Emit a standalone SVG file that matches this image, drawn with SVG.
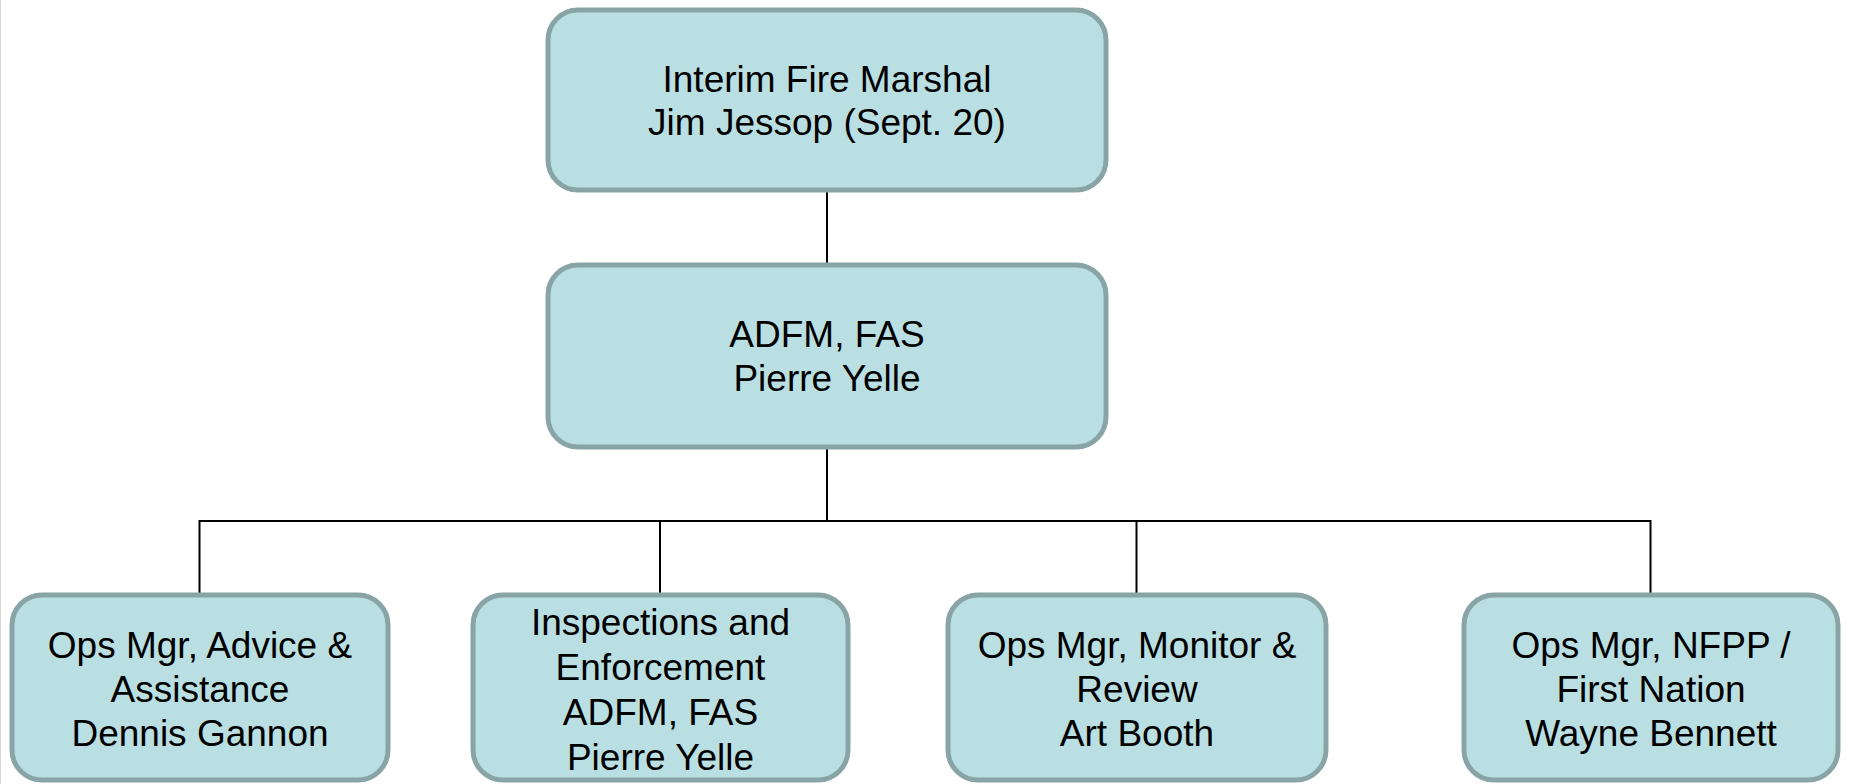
<svg xmlns="http://www.w3.org/2000/svg" width="1851" height="784" viewBox="0 0 1851 784">
<style>
.box{fill:#BADFE2;stroke:#88A4A6;stroke-width:5}
.lbl{font-family:"Liberation Sans",Arial,sans-serif;font-size:37px;fill:#000;text-anchor:middle}
.conn{stroke:#000;stroke-width:2;fill:none}
</style>
<rect x="0" y="0" width="1851" height="784" fill="#ffffff"/>
<line x1="0.5" y1="0" x2="0.5" y2="784" stroke="#d9d9d9" stroke-width="1"/>
<g id="connectors">
<line class="conn" x1="827" y1="190" x2="827" y2="265"/>
<line class="conn" x1="827" y1="447" x2="827" y2="521"/>
<line class="conn" x1="199.5" y1="521" x2="1650.5" y2="521"/>
<line class="conn" x1="199.5" y1="520" x2="199.5" y2="595"/>
<line class="conn" x1="660" y1="521" x2="660" y2="595"/>
<line class="conn" x1="1136.5" y1="521" x2="1136.5" y2="595"/>
<line class="conn" x1="1650.5" y1="520" x2="1650.5" y2="595"/>
</g>
<g id="fire-marshal">
<rect class="box" x="548" y="10" width="558" height="180" rx="30"/>
<text class="lbl" x="827" y="92">Interim Fire Marshal</text>
<text class="lbl" x="827" y="135">Jim Jessop (Sept. 20)</text>
</g>
<g id="adfm">
<rect class="box" x="548" y="265" width="558" height="182" rx="30"/>
<text class="lbl" x="827" y="347">ADFM, FAS</text>
<text class="lbl" x="827" y="391">Pierre Yelle</text>
</g>
<g id="advice">
<rect class="box" x="12" y="595" width="376" height="185" rx="30"/>
<text class="lbl" x="200" y="658">Ops Mgr, Advice &amp;</text>
<text class="lbl" x="200" y="702">Assistance</text>
<text class="lbl" x="200" y="746">Dennis Gannon</text>
</g>
<g id="inspections">
<rect class="box" x="473" y="595" width="375" height="185" rx="30"/>
<text class="lbl" x="660.5" y="635">Inspections and</text>
<text class="lbl" x="660.5" y="680">Enforcement</text>
<text class="lbl" x="660.5" y="725">ADFM, FAS</text>
<text class="lbl" x="660.5" y="770">Pierre Yelle</text>
</g>
<g id="monitor">
<rect class="box" x="948" y="595" width="378" height="185" rx="30"/>
<text class="lbl" x="1137" y="658">Ops Mgr, Monitor &amp;</text>
<text class="lbl" x="1137" y="702">Review</text>
<text class="lbl" x="1137" y="746">Art Booth</text>
</g>
<g id="nfpp">
<rect class="box" x="1464" y="595" width="374" height="185" rx="30"/>
<text class="lbl" x="1651" y="658">Ops Mgr, NFPP /</text>
<text class="lbl" x="1651" y="702">First Nation</text>
<text class="lbl" x="1651" y="746">Wayne Bennett</text>
</g>
</svg>
